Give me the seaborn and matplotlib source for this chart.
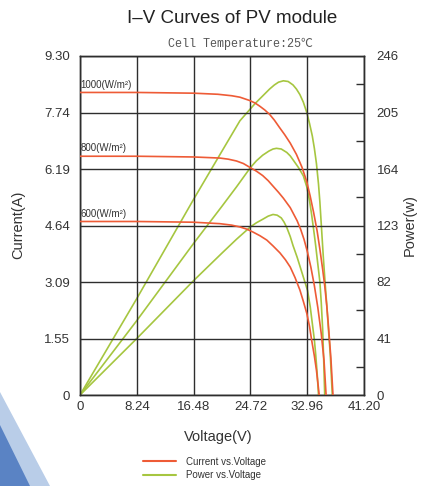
import matplotlib
matplotlib.use("Agg")
import matplotlib.pyplot as plt
import pandas as pd
import seaborn as sns
from matplotlib.lines import Line2D
from matplotlib.patches import Polygon

# values
IRRADIANCE = ["1000", "800", "600"]

# current vs voltage
V_CUR_1000 = [0, 8.24, 16.48, 20.0, 22.0, 23.2, 24.6, 25.4, 26.1, 26.8, 27.5, 28.2, 28.9, 29.7, 30.5,
              31.4, 32.2, 32.9, 33.4, 33.9, 34.4, 34.8, 35.2, 35.5, 35.8, 36.0, 36.2, 36.4, 36.55, 36.7]
I_CUR_1000 = [8.30, 8.30, 8.28, 8.25, 8.21, 8.17, 8.08, 8.01, 7.92, 7.82, 7.70, 7.54, 7.35, 7.14, 6.91,
              6.60, 6.25, 5.85, 5.45, 5.00, 4.50, 4.00, 3.45, 3.00, 2.45, 2.00, 1.50, 1.00, 0.50, 0]
V_CUR_800 = [0, 8.24, 16.48, 20.3, 21.5, 22.7, 23.7, 24.6, 25.6, 26.5, 27.3, 28.0, 28.8, 29.5, 30.5,
             31.5, 32.0, 32.5, 33.0, 33.5, 34.0, 34.5, 35.0, 35.4, 35.7]
I_CUR_800 = [6.55, 6.55, 6.53, 6.50, 6.47, 6.42, 6.35, 6.25, 6.14, 6.02, 5.88, 5.73, 5.56, 5.40, 5.14,
             4.78, 4.55, 4.27, 3.92, 3.50, 3.00, 2.40, 1.68, 0.95, 0]
V_CUR_600 = [0, 8.24, 16.48, 20.3, 22.0, 23.2, 24.2, 25.1, 26.1, 27.1, 28.0, 29.0, 29.8, 30.5, 31.2,
             31.9, 32.4, 32.9, 33.3, 33.6, 34.0, 34.3, 34.5, 34.7]
I_CUR_600 = [4.76, 4.76, 4.74, 4.70, 4.66, 4.61, 4.55, 4.47, 4.37, 4.25, 4.09, 3.90, 3.71, 3.51, 3.22,
             2.88, 2.57, 2.24, 1.88, 1.51, 1.07, 0.68, 0.35, 0]

# power vs voltage
V_POW_1000 = [0, 8.24, 16.48, 20.6, 23.2, 24.6, 25.4, 26.1, 26.8, 27.5, 28.2, 28.8, 29.5, 30.2, 30.9,
              31.4, 31.9, 32.4, 32.9, 33.3, 33.7, 34.0, 34.3, 34.6, 34.8, 35.05, 35.3, 35.55, 35.8,
              36.05, 36.3, 36.45, 36.6]
P_POW_1000 = [0, 70, 142, 177, 199, 207, 211.5, 215, 218.5, 222, 225, 227, 228, 227.5, 225,
              222, 218, 212.5, 205, 197, 188, 179, 168, 153, 140, 120, 100, 82, 65,
              47, 30, 15, 0]
V_POW_800 = [0, 8.24, 16.48, 20.6, 22.7, 24.72, 25.6, 26.5, 27.4, 28.0, 28.5, 29.2, 30.0, 30.5, 31.0,
             31.7, 32.4, 32.9, 33.3, 33.6, 34.0, 34.2, 34.5, 34.8, 35.0, 35.2, 35.35, 35.5]
P_POW_800 = [0, 54, 110, 137, 151, 165, 170, 174, 177, 178.5, 179, 178.5, 176, 173.5, 170,
             165, 159, 151, 141, 131, 116, 108, 95, 82, 67, 48, 26, 0]
V_POW_600 = [0, 8.24, 16.48, 20.6, 22.7, 24.72, 25.6, 26.5, 27.3, 28.0, 28.6, 29.2, 29.6, 30.0, 30.5,
             30.9, 31.5, 32.0, 32.5, 33.0, 33.4, 33.7, 34.0, 34.2, 34.4, 34.6]
P_POW_600 = [0, 41, 83, 103, 113, 122, 125, 127.5, 129.8, 131, 130.5, 128.5, 125.5, 121.5, 115,
             108.5, 100, 92, 84, 76, 64, 52, 40, 29, 16, 0]

X_TICKS = [0, 8.24, 16.48, 24.72, 32.96, 41.20]
X_TICK_LABELS = ["0", "8.24", "16.48", "24.72", "32.96", "41.20"]
I_TICKS = [0, 1.55, 3.09, 4.64, 6.19, 7.74, 9.30]
I_TICK_LABELS = ["0", "1.55", "3.09", "4.64", "6.19", "7.74", "9.30"]
P_TICKS = [0, 41, 82, 123, 164, 205, 246]
P_MINOR = [20.5, 61.5, 102.5, 143.5, 184.5, 225.5]

RED = "#ee5b36"
GREEN = "#a6c640"
GRID = "#2e2e2e"
TXT = "#333333"


def long_frame(xs, ys, yname):
    rows = []
    for label, x, y in zip(IRRADIANCE, xs, ys):
        rows.append(pd.DataFrame({"voltage": x, yname: y, "irradiance": label}))
    return pd.concat(rows, ignore_index=True)


cur_df = long_frame([V_CUR_1000, V_CUR_800, V_CUR_600], [I_CUR_1000, I_CUR_800, I_CUR_600], "current")
pow_df = long_frame([V_POW_1000, V_POW_800, V_POW_600], [P_POW_1000, P_POW_800, P_POW_600], "power")

sns.set_style("white")
plt.rcParams["font.family"] = ["Liberation Sans", "DejaVu Sans"]

fig = plt.figure(figsize=(4.22, 4.86), dpi=100)
ax = fig.add_axes([80 / 422, 1 - 395 / 486, 284 / 422, 339 / 486])

# decorative slide corner
fig.patches.append(Polygon([(0, 1 - 392 / 486), (50 / 422, 0), (0, 0)], closed=True,
                           transform=fig.transFigure, facecolor="#b9cde8", edgecolor="none", zorder=0))
fig.patches.append(Polygon([(0, 1 - 425 / 486), (30 / 422, 0), (0, 0)], closed=True,
                           transform=fig.transFigure, facecolor="#5a83c4", edgecolor="none", zorder=0))

ax2 = ax.twinx()

sns.lineplot(data=cur_df, x="voltage", y="current", units="irradiance", estimator=None,
             sort=False, color=RED, linewidth=1.2, ax=ax, zorder=3)
sns.lineplot(data=pow_df, x="voltage", y="power", units="irradiance", estimator=None,
             sort=False, color=GREEN, linewidth=1.2, ax=ax2, zorder=3)

ax.set_xlim(0, 41.2)
ax.set_ylim(0, 9.30)
ax2.set_ylim(0, 246)

ax.set_xticks(X_TICKS)
ax.set_xticklabels(X_TICK_LABELS)
ax.set_yticks(I_TICKS)
ax.set_yticklabels(I_TICK_LABELS)
ax2.set_yticks(P_TICKS)
ax2.set_yticks(P_MINOR, minor=True)

ax.grid(True, color=GRID, linewidth=1.0)
ax.tick_params(axis="both", length=0, labelsize=9.5, labelcolor=TXT)
ax.tick_params(axis="y", pad=7)
ax.tick_params(axis="x", pad=4)
ax2.tick_params(axis="y", which="major", length=0, pad=9, labelsize=9.5, labelcolor=TXT)
ax2.tick_params(axis="y", which="minor", direction="in", length=6, width=1.0, color=GRID)
ax.set_xlabel("")
ax.set_ylabel("")
ax2.set_ylabel("")
for a in (ax, ax2):
    for s in a.spines.values():
        s.set_color(GRID)
        s.set_linewidth(1.0)
ax.set_axisbelow(True)
ax.set_zorder(ax2.get_zorder() + 1)
ax.patch.set_visible(False)

for label, ys in zip(IRRADIANCE, [I_CUR_1000, I_CUR_800, I_CUR_600]):
    ax.text(0.05, ys[0] + 0.08, f"{label}(W/m²)", fontsize=7, color=TXT, ha="left", va="bottom")

fig.text(0.55, 0.962, "I\u2013V Curves of PV module", ha="center", va="center", fontsize=13.5, color="#222222")
fig.text(0.569, 0.909, "Cell Temperature:25℃", ha="center", va="center", fontsize=8.5,
         color="#555555", family=["Liberation Mono", "Noto Sans CJK SC", "DejaVu Sans"])
fig.text(0.517, 0.101, "Voltage(V)", ha="center", va="center", fontsize=10.5, color=TXT)
fig.text(0.043, 0.537, "Current(A)", ha="center", va="center", rotation=90, fontsize=10.5, color=TXT)
fig.text(0.972, 0.537, "Power(w)", ha="center", va="center", rotation=90, fontsize=10.5, color=TXT)

handles = [Line2D([], [], color=RED, linewidth=1.5), Line2D([], [], color=GREEN, linewidth=1.5)]
fig.legend(handles, ["Current vs.Voltage", "Power vs.Voltage"], loc="upper left",
           bbox_to_anchor=(138 / 422, 1 - 452 / 486), frameon=False, fontsize=7,
           handlelength=3.4, handletextpad=1.0, labelspacing=0.35, borderpad=0, labelcolor=TXT)

fig.savefig("out.png", dpi=100)
